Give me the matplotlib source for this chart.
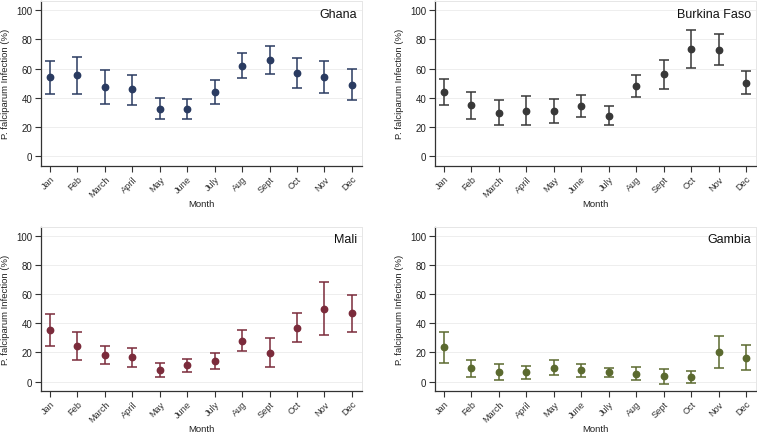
import matplotlib
matplotlib.use("Agg")
import matplotlib.pyplot as plt
import numpy as np

plt.rcParams['font.family'] = ['Liberation Sans', 'DejaVu Sans']

months = ["Jan", "Feb", "March", "April", "May", "June", "July", "Aug", "Sept", "Oct", "Nov", "Dec"]

ghana = [54.0, 55.6, 47.6, 45.8, 32.8, 32.8, 44.4, 62.2, 66.0, 57.0, 54.0, 48.7]
ghana_lo = [42.6, 43.0, 36.2, 35.5, 25.5, 25.7, 36.2, 53.5, 56.5, 46.7, 43.3, 38.3]
ghana_hi = [65.4, 68.3, 58.8, 55.4, 40.0, 39.6, 52.4, 70.6, 75.4, 67.2, 65.0, 59.7]

burkina = [44.0, 35.0, 30.0, 31.4, 31.2, 34.2, 28.0, 48.3, 56.3, 73.3, 72.9, 50.1]
burkina_lo = [35.3, 25.7, 21.6, 21.6, 23.0, 26.7, 21.4, 41.0, 46.2, 60.6, 62.6, 42.4]
burkina_hi = [52.8, 44.2, 38.7, 41.5, 39.4, 41.9, 34.6, 55.6, 66.0, 86.3, 83.4, 58.3]

mali = [35.4, 24.2, 18.3, 16.7, 8.2, 11.2, 14.2, 28.1, 19.9, 37.0, 50.0, 46.8]
mali_lo = [24.7, 14.8, 12.1, 10.3, 3.4, 6.4, 8.9, 20.8, 9.8, 27.2, 31.7, 34.2]
mali_hi = [46.3, 34.2, 24.4, 23.3, 13.0, 15.8, 19.4, 35.6, 29.9, 47.3, 68.5, 59.6]

gambia = [23.4, 9.0, 6.5, 6.3, 9.3, 7.6, 6.3, 5.1, 3.5, 3.0, 20.4, 16.4]
gambia_lo = [13.0, 3.0, 0.9, 1.9, 4.2, 3.2, 3.0, 0.9, -1.4, -1.2, 9.3, 8.1]
gambia_hi = [34.0, 15.0, 11.8, 10.9, 14.6, 12.3, 9.3, 9.7, 8.3, 7.2, 31.3, 24.8]

yticks = [0, 20, 40, 60, 80, 100]

panels = [
    ("Ghana", ghana, ghana_lo, ghana_hi, "#2a3b61"),
    ("Burkina Faso", burkina, burkina_lo, burkina_hi, "#383838"),
    ("Mali", mali, mali_lo, mali_hi, "#7b2b3b"),
    ("Gambia", gambia, gambia_lo, gambia_hi, "#5b6a2f"),
]

W, H = 757, 435
fig = plt.figure(figsize=(W / 100, H / 100), dpi=100)
fig.patch.set_facecolor("white")

# axes boxes in pixel coords: (left, top, right, bottom)
boxes = [
    (40.7, 2.0, 361.7, 166.7),
    (434.7, 2.0, 756.0, 166.7),
    (40.7, 227.7, 361.7, 391.7),
    (434.7, 227.7, 756.0, 391.7),
]

x = np.arange(1, 13)
for (name, vals, lo, hi, col), (l, t, r, b) in zip(panels, boxes):
    ax = fig.add_axes([l / W, (H - b) / H, (r - l) / W, (b - t) / H])
    hpx = b - t
    vals = np.array(vals)
    lo = np.array(lo)
    hi = np.array(hi)
    ax.errorbar(x, vals, yerr=[vals - lo, hi - vals], fmt="o", color=col,
                ecolor=col, elinewidth=1.1, capsize=3.6, capthick=1.1,
                markersize=4.6, zorder=3)
    ax.set_xlim(0.66, 12.36)
    ax.set_ylim(-6.3, 106.3)
    ax.set_yticks(yticks)
    ax.set_xticks(x)
    ax.set_xticklabels(months, rotation=45, ha="right", va="top",
                       rotation_mode="anchor", fontsize=6.6, color="#222222")
    ax.tick_params(axis="y", labelsize=7.0, length=4, width=0.8, pad=2,
                   colors="#333333", labelcolor="#222222")
    ax.tick_params(axis="x", length=4, width=0.8, pad=2, colors="#333333")
    ax.grid(axis="y", color="#eeeeee", linewidth=0.7, zorder=0)
    ax.set_axisbelow(True)
    for s in ["left", "bottom"]:
        ax.spines[s].set_color("#333333")
        ax.spines[s].set_linewidth(0.9)
    for s in ["top", "right"]:
        ax.spines[s].set_color("#e6e6e6")
        ax.spines[s].set_linewidth(0.7)
    ax.set_ylabel("P. falciparum Infection (%)", fontsize=6.8, color="#222222",
                  va="center")
    ax.yaxis.set_label_coords(-35.5 / (r - l), 0.5)
    ax.set_xlabel("Month", fontsize=6.8, color="#222222", va="center")
    ax.xaxis.set_label_coords(0.5, -38.0 / hpx)
    ax.text(0.985, 0.96, name, transform=ax.transAxes, ha="right", va="top",
            fontsize=9, color="#111111")

fig.savefig("out.png", dpi=100, facecolor="white")
